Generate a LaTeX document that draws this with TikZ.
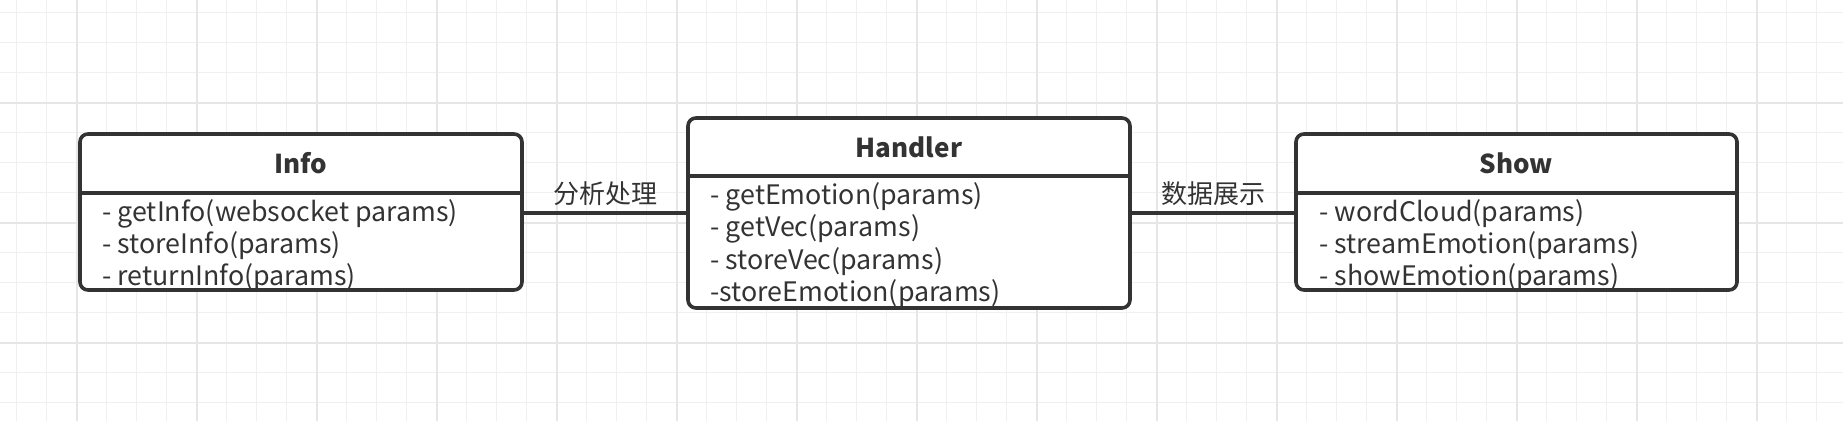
\documentclass[tikz,border=0pt]{standalone}
\usepackage{fontspec}
\setmainfont{Noto Sans CJK SC}
\definecolor{ink}{HTML}{333333}
\definecolor{gridminor}{HTML}{F0F0F0}
\definecolor{gridmajor}{HTML}{E6E6E6}
\tikzset{
  umlbox/.style={draw=ink, line width=1.8pt, rounded corners=4pt, fill=white, inner sep=0pt},
  divider/.style={draw=ink, line width=1.8pt},
  link/.style={draw=ink, line width=2pt},
  title/.style={text=ink, font=\fontsize{13}{15}\selectfont\bfseries, inner sep=0pt},
  method/.style={text=ink, font=\fontsize{13.4}{15}\selectfont, anchor=west, inner sep=0pt},
  lbl/.style={text=ink, font=\fontsize{13}{15}\selectfont, inner sep=0pt},
  gminor/.style={draw=gridminor, line width=0.75pt},
  gmajor/.style={draw=gridmajor, line width=1pt},
}
\begin{document}
\begin{tikzpicture}[x=0.5pt, y=-0.5pt]
\useasboundingbox[fill=white] (0,0) rectangle (1843,421);
% grid
\foreach \i in {0,...,61} {\draw[gminor] ({16.7+30*\i},0) -- ({16.7+30*\i},421);}
\foreach \j in {0,...,13} {\draw[gminor] (0,{12.7+30*\j}) -- (1843,{12.7+30*\j});}
\foreach \i in {0,...,14} {\draw[gmajor] ({76.7+120*\i},0) -- ({76.7+120*\i},421);}
\foreach \j in {0,...,2} {\draw[gmajor] (0,{102.7+120*\j}) -- (1843,{102.7+120*\j});}

% boxes
\node[umlbox, minimum width=221pt, minimum height=78pt] (info) at (301,212) {};
\node[umlbox, minimum width=221pt, minimum height=95pt] (handler) at (909,213) {};
\node[umlbox, minimum width=220.5pt, minimum height=78pt] (show) at (1516.5,212) {};

\draw[divider] (info.west |- 0,193) -- (info.east |- 0,193);
\draw[divider] (handler.west |- 0,176) -- (handler.east |- 0,176);
\draw[divider] (show.west |- 0,193) -- (show.east |- 0,193);

% titles
\node[title] (infoT) at (301,163.5) {Info};
\node[title] (handlerT) at (909,147) {Handler};
\node[title] (showT) at (1516.5,163.5) {Show};

% methods
\node[method] (i1) at (102,214) {- getInfo(websocket params)};
\node[method] (i2) at (102,245.5) {- storeInfo(params)};
\node[method] (i3) at (102,277.5) {- returnInfo(params)};

\node[method] (h1) at (710,196.5) {- getEmotion(params)};
\node[method] (h2) at (710,229) {- getVec(params)};
\node[method] (h3) at (710,261.5) {- storeVec(params)};
\node[method] (h4) at (710,294) {-storeEmotion(params)};

\node[method] (s1) at (1319,214) {- wordCloud(params)};
\node[method] (s2) at (1319,245.5) {- streamEmotion(params)};
\node[method] (s3) at (1319,277.5) {- showEmotion(params)};

% connectors
\draw[link] (info.east |- handler.west) -- (handler.west);
\draw[link] (handler.east) -- (show.west |- handler.east);
\node[lbl] (l1) at (605,194) {分析处理};
\node[lbl] (l2) at (1213,194) {数据展示};
\end{tikzpicture}
\end{document}
